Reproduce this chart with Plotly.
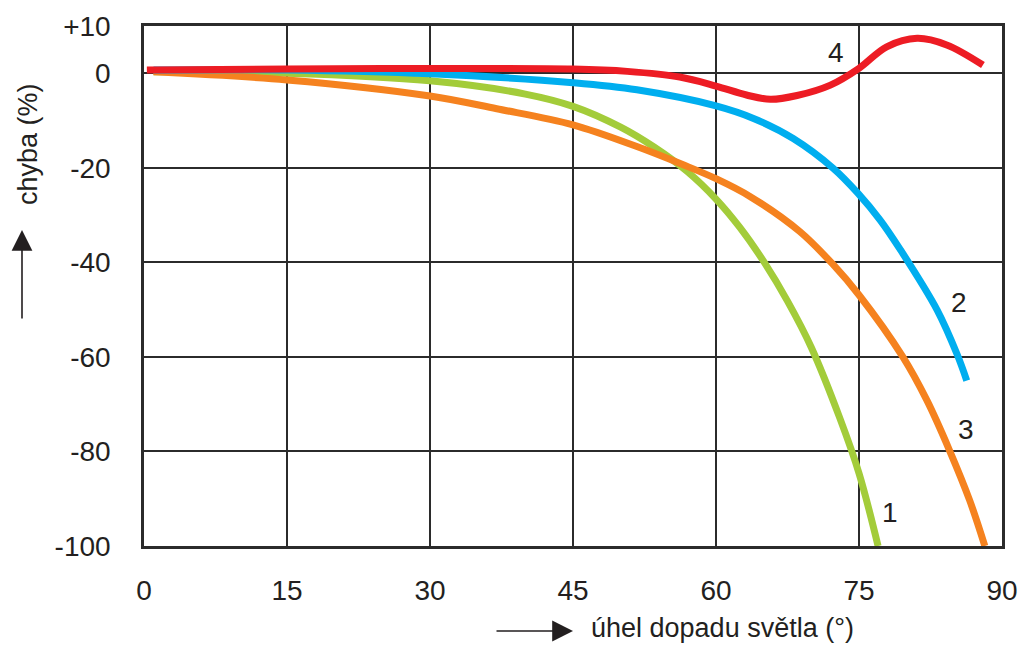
import plotly.graph_objects as go

# Curve 1 (green)
x1 = [1, 15, 30, 40, 45, 50, 53.5, 57, 60, 62.5, 65, 67.5, 70, 73, 75, 77]
y1 = [0.3, 0, -1.6, -4.4, -7.0, -11.4, -15.6, -20.8, -26.6, -32.6, -39.8, -48.2, -58, -73, -84.6, -100]
# Curve 2 (blue)
x2 = [1, 15, 30, 45, 51.7, 60, 64, 68.1, 72.3, 74.9, 77.2, 79.3, 83.2, 85.3, 86.3]
y2 = [0.7, 0.7, -0.1, -2.0, -3.5, -6.9, -9.6, -13.8, -20.1, -25.4, -31, -37.2, -50.1, -59.5, -65]
# Curve 3 (orange)
x3 = [1, 15, 30, 37, 45, 51.7, 56.5, 60, 63.6, 68.8, 72.3, 75, 79.6, 82.1, 84.5, 86.6, 88.2]
y3 = [0.3, -1.4, -4.8, -7.5, -10.9, -15.5, -19.3, -22.3, -26.1, -33.5, -40.5, -46.9, -60, -69.1, -79.8, -90.3, -100]
# Curve 4 (red)
x4 = [0.3, 15, 30, 45, 50.7, 56.2, 60, 63.2, 65.7, 68.5, 72, 75, 77.9, 81.1, 84.2, 88]
y4 = [0.7, 0.9, 1.0, 0.9, 0.4, -0.8, -2.7, -4.6, -5.5, -4.7, -2.5, 1.05, 5.6, 7.4, 6.0, 1.75]

curve_labels = ["1", "2", "3", "4"]
label_x = [78.3, 85.5, 86.2, 72.6]
label_y = [-93, -48.4, -75.3, 4.5]

xtick_vals = [0, 15, 30, 45, 60, 75, 90]
ytick_vals = [10, 0, -20, -40, -60, -80, -100]
ytick_text = ["+10", "0", "-20", "-40", "-60", "-80", "-100"]

colors = ["#A3CC3A", "#00AEEF", "#F5821F", "#ED1C24"]
FONT = "Liberation Sans, Arial, sans-serif"
TXT = "#231F20"
GRID = "#2B2B2B"

fig = go.Figure()
for xs, ys, c in [(x1, y1, colors[0]), (x3, y3, colors[2]), (x2, y2, colors[1]), (x4, y4, colors[3])]:
    fig.add_trace(go.Scatter(x=xs, y=ys, mode="lines", line=dict(color=c, width=7, shape="spline", smoothing=1.0),
                             showlegend=False, hoverinfo="skip"))

for t, lx, ly in zip(curve_labels, label_x, label_y):
    fig.add_annotation(x=lx, y=ly, text=t, showarrow=False, font=dict(family=FONT, size=28, color=TXT))

# axis titles
fig.add_annotation(xref="paper", yref="paper", x=(28 - 144) / 858, y=(546 - 144) / 520, text="chyba (%)",
                   textangle=-90, showarrow=False, xanchor="center", yanchor="middle",
                   font=dict(family=FONT, size=27, color=TXT))
fig.add_annotation(xref="paper", yref="paper", x=(722 - 144) / 858, y=(546 - 628) / 520,
                   text="úhel dopadu světla (°)", showarrow=False, xanchor="center", yanchor="middle",
                   font=dict(family=FONT, size=27, color=TXT))
# arrows
fig.add_annotation(xref="paper", yref="paper", x=(22 - 144) / 858, y=(546 - 230) / 520, ax=0, ay=90,
                   text="", showarrow=True, arrowhead=2, arrowsize=2.6, arrowwidth=1.6, arrowcolor=TXT)
fig.add_annotation(xref="paper", yref="paper", x=(573 - 144) / 858, y=(546 - 631) / 520, ax=-78, ay=0,
                   text="", showarrow=True, arrowhead=2, arrowsize=2.6, arrowwidth=1.6, arrowcolor=TXT)

fig.update_xaxes(range=[0, 90], tickvals=xtick_vals, showgrid=True, gridcolor=GRID, gridwidth=2,
                 showline=True, mirror=True, linecolor=GRID, linewidth=2.5, zeroline=False, automargin=False,
                 ticks="", ticklabelstandoff=18, tickfont=dict(family=FONT, size=28, color=TXT))
fig.update_yaxes(range=[-100, 10], tickvals=ytick_vals, ticktext=ytick_text, showgrid=True, gridcolor=GRID,
                 gridwidth=2, showline=True, mirror=True, linecolor=GRID, linewidth=2.5, zeroline=False,
                 automargin=False,
                 ticks="", ticklabelstandoff=25, tickfont=dict(family=FONT, size=28, color=TXT))

fig.update_layout(width=1021, height=648, margin=dict(l=144, r=19, t=26, b=102),
                  paper_bgcolor="white", plot_bgcolor="white")

fig.write_html("out.html", config={"displayModeBar": False},
               post_script="document.body.style.margin='0';document.body.style.overflow='hidden';")
